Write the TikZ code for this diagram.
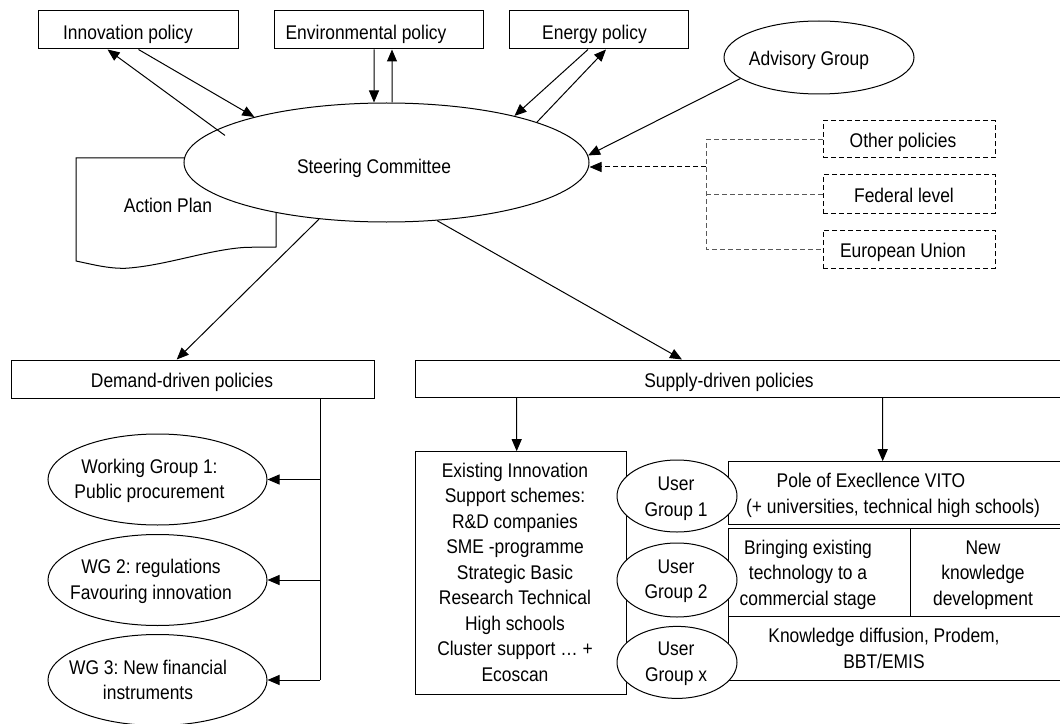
\documentclass[tikz,border=0pt]{standalone}
\usepackage{fontspec}
\setmainfont{Liberation Sans}[FakeStretch=0.88]
\usetikzlibrary{arrows.meta,shapes.geometric}
\frenchspacing
\begin{document}
\begin{tikzpicture}[x=1bp,y=-1bp,
  ln/.style={line width=1bp, draw=black},
  boxn/.style={ln, rectangle, inner sep=0pt, fill=white},
  elln/.style={ln, ellipse, inner sep=0pt, fill=white},
  dboxn/.style={boxn, dash pattern=on 5bp off 3bp},
  lbl/.style={font=\fontsize{19.8bp}{25.5bp}\selectfont\frenchspacing, align=center, inner sep=0pt,
    execute at begin node=\strut, execute at end node=\strut},
  arr/.style={ln, -{Triangle[length=12bp,width=10bp]}},
  darr/.style={arr, dash pattern=on 5bp off 3bp},
  dln/.style={ln, draw=black!65, dash pattern=on 5bp off 3bp}]
\useasboundingbox (0,0) rectangle (1060,724);
\clip (0,0) rectangle (1060,724);

% top policy boxes
\node[boxn, minimum width=199bp, minimum height=38bp] (innov) at (138.5,30) {};
\node[lbl] (innov-t) at (128,34.2) {Innovation policy};
\node[boxn, minimum width=209bp, minimum height=38bp] (env) at (378.5,30) {};
\node[lbl] (env-t) at (366,34.2) {Environmental policy};
\node[boxn, minimum width=179bp, minimum height=38bp] (energy) at (598.5,30) {};
\node[lbl] (energy-t) at (594.5,34.2) {Energy policy};

% advisory group
\node[elln, minimum width=190bp, minimum height=73bp] (adv) at (819,57.5) {};
\node[lbl] (adv-t) at (809,60.6) {Advisory Group};

% action plan document shape
\draw[ln, fill=white] (276,158) -- (76,158) -- (76,261)
  .. controls (95,265) and (108,268.5) .. (125,268.3)
  .. controls (165,266) and (210,249) .. (247,247.3) -- (276,247) -- cycle;
\node[lbl] (plan-t) at (168,207.2) {Action Plan};

% steering committee
\node[elln, minimum width=405bp, minimum height=119bp] (steer) at (386.5,162.5) {};
\node[lbl] (steer-t) at (374,168.2) {Steering Committee};

% dashed boxes
\node[dboxn, minimum width=172bp, minimum height=37bp] (other) at (909,139.5) {};
\node[lbl] (other-t) at (903,142.2) {Other policies};
\node[dboxn, minimum width=172bp, minimum height=38bp] (fed) at (909,194) {};
\node[lbl] (fed-t) at (904,197.6) {Federal level};
\node[dboxn, minimum width=172bp, minimum height=38bp] (euro) at (909,249) {};
\node[lbl] (euro-t) at (903,252.6) {European Union};

% policy boxes
\node[boxn, minimum width=362bp, minimum height=38bp] (demand) at (193,379) {};
\node[lbl] (demand-t) at (182,382.6) {Demand-driven policies};
\node[boxn, minimum width=660bp, minimum height=37.7bp] (supply) at (745,378.85) {};
\node[lbl] (supply-t) at (729,382.6) {Supply-driven policies};

% working groups
\node[elln, minimum width=219bp, minimum height=91bp] (wg1) at (157.5,479.5) {};
\node[lbl] (wg1-t) at (149.5,482.8) {Working Group 1:\\Public procurement};
\node[elln, minimum width=219bp, minimum height=91bp] (wg2) at (157.5,580) {};
\node[lbl] (wg2-t) at (151,583.2) {WG 2: regulations\\Favouring innovation};
\node[elln, minimum width=219bp, minimum height=91bp] (wg3) at (157.5,680) {};
\node[lbl] (wg3-t) at (148,683.7) {WG 3: New financial\\instruments};

% supply side boxes
\node[boxn, minimum width=211.7bp, minimum height=242.3bp] (exist) at (520.85,572.85) {};
\node[lbl] (exist-t) at (515,575.9) {Existing Innovation\\Support schemes:\\R\&D companies\\SME -programme\\Strategic Basic\\Research Technical\\High schools\\Cluster support … +\\Ecoscan};
\node[boxn, minimum width=347bp, minimum height=62.3bp] (pole) at (901.5,492.85) {};
\node[lbl] (pole-t) at (893,497.1) {\hspace*{-44bp}Pole of Execllence VITO\\(+ universities, technical high schools)};
\node[boxn, minimum width=182bp, minimum height=88.7bp] (bring) at (819,572.35) {};
\node[lbl] (bring-t) at (808,576.6) {Bringing existing\\technology to a\\commercial stage};
\node[boxn, minimum width=165bp, minimum height=88.7bp] (newk) at (992.5,572.35) {};
\node[lbl] (newk-t) at (983,576.6) {New\\knowledge\\development};
\node[boxn, minimum width=347bp, minimum height=63.3bp] (kdiff) at (901.5,648.35) {};
\node[lbl] (kdiff-t) at (884,651.9) {Knowledge diffusion, Prodem,\\BBT/EMIS};

% user groups
\node[elln, minimum width=120bp, minimum height=72bp] (ug1) at (677,496) {};
\node[lbl] (ug1-t) at (676,500.7) {User\\Group 1};
\node[elln, minimum width=120bp, minimum height=74bp] (ug2) at (677,580) {};
\node[lbl] (ug2-t) at (676,582.9) {User\\Group 2};
\node[elln, minimum width=120bp, minimum height=72bp] (ugx) at (677,662.4) {};
\node[lbl] (ugx-t) at (676,665.7) {User\\Group x};

% connectors: top policies <-> steering committee
\draw[arr] (innov.south) -- (steer.161);
\draw[arr, shorten <=-10bp] (steer.169) -- ([xshift=-31bp]innov.south);
\draw[arr] ([xshift=-4.5bp]env.south) -- ([xshift=-12.5bp]steer.north);
\draw[arr] ([xshift=5.5bp]steer.north) -- ([xshift=13.5bp]env.south);
\draw[arr] ([xshift=-10.5bp]energy.south) -- (steer.20);
\draw[arr] (steer.15) -- ([xshift=7.5bp]energy.south);
\draw[arr] (adv.195) -- (steer.2);

% dashed inputs
\coordinate (jn) at (706,167);
\draw[dln] (other.west) -- (other.west -| jn) -- (euro.west -| jn) -- (euro.west);
\draw[dln] (fed.west) -- (fed.west -| jn);
\draw[darr] (jn) -- (jn -| steer.east);

% steering -> policy boxes
\draw[arr] (steer.220) -- ([xshift=-16.3bp]demand.north);
\draw[arr] (steer.311) -- ([xshift=-63bp]supply.north);

% demand -> working groups
\coordinate (dtr) at ([xshift=127bp]demand.south);
\draw[ln] (dtr) -- (dtr |- wg3.east);
\draw[arr] (dtr |- wg1.east) -- (wg1.east);
\draw[arr] (dtr |- wg2.east) -- (wg2.east);
\draw[arr] (dtr |- wg3.east) -- (wg3.east);

% supply -> schemes
\draw[arr] ([xshift=-228.3bp]supply.south) -- ([xshift=-4.15bp]exist.north);
\draw[arr] ([xshift=137.7bp]supply.south) -- ([xshift=-18.8bp]pole.north);
\end{tikzpicture}
\end{document}
